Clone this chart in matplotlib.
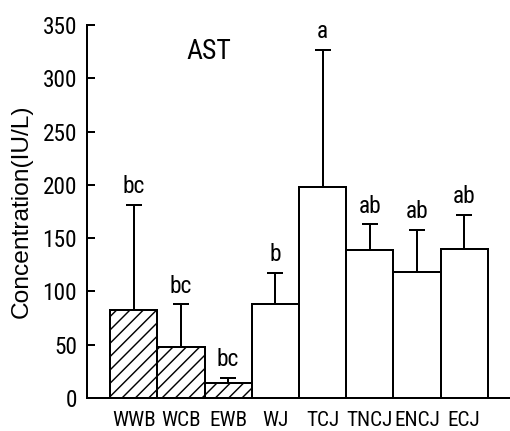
import matplotlib.pyplot as plt
import numpy as np

# dados do grafico AST
categorias = ['WWB', 'WCB', 'EWB', 'WJ', 'TCJ', 'TNCJ', 'ENCJ', 'ECJ']
medias = [83, 48, 14, 88, 198, 139, 118, 140]
desvios = [98, 40, 5, 29.5, 129, 24, 39.5, 32]
letras = ['bc', 'bc', 'bc', 'b', 'a', 'ab', 'ab', 'ab']
hachura = ['//', '//', '//', '', '', '', '', '']

fonte_estreita = ['Roboto Condensed', 'Liberation Sans', 'DejaVu Sans']
plt.rcParams['font.family'] = fonte_estreita
plt.rcParams['hatch.linewidth'] = 1.3

fig = plt.figure(figsize=(510 / 80, 431 / 80), dpi=80)
ax = fig.add_axes([87 / 510, 33 / 431, 423 / 510, 373 / 431])

x = np.arange(len(categorias))
barras = ax.bar(x, medias, width=1.0, color='white', edgecolor='black',
                linewidth=1.8)
for b, h in zip(barras, hachura):
    b.set_hatch(h)

ax.errorbar(x, medias, yerr=[np.zeros(len(desvios)), desvios], fmt='none',
            ecolor='black', elinewidth=1.8, capsize=7.2, capthick=1.8)

for xi, m, d, l in zip(x, medias, desvios, letras):
    ax.annotate(l, (xi, m + d), xytext=(0, 6), textcoords='offset points',
                ha='center', va='bottom', fontsize=21)

ax.text(0.288, 0.928, 'AST', transform=ax.transAxes, ha='center',
        va='center', fontsize=25)

ax.set_xlim(-0.99, 7.97)
ax.set_ylim(0, 350)
ax.set_yticks(range(0, 351, 50))
ax.set_xticks(x)
ax.set_xticklabels(categorias, fontsize=19)
ax.tick_params(axis='x', length=0, pad=12)
ax.tick_params(axis='y', direction='in', length=7.2, width=1.8,
               labelsize=21, pad=9)

ax.set_ylabel('Concentration(IU/L)', fontsize=22,
              family=['Liberation Sans', 'DejaVu Sans'])
ax.yaxis.set_label_coords(-0.128, 0.5)

ax.spines['top'].set_visible(False)
ax.spines['right'].set_visible(False)
ax.spines['left'].set_linewidth(1.8)
ax.spines['bottom'].set_linewidth(1.8)

plt.savefig('out.png', dpi=80)
